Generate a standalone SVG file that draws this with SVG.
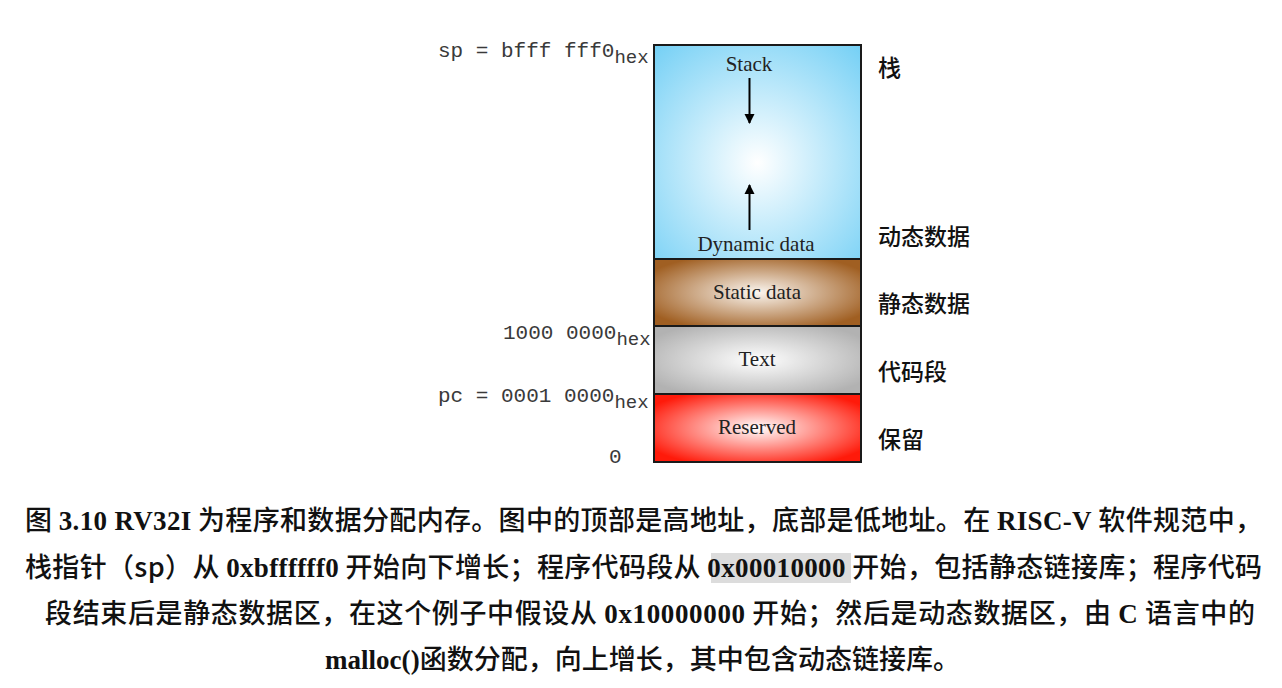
<svg xmlns="http://www.w3.org/2000/svg" width="1282" height="688" viewBox="0 0 1282 688">
<style>
.addr{font-family:"Liberation Mono","DejaVu Sans Mono",monospace;font-size:21px;fill:#3a3a3a}
.sub{font-size:19px}
.seg{font-family:"Liberation Serif","DejaVu Serif",serif;font-size:21px;fill:#222;text-anchor:middle}
.cn{font-family:"Noto Sans CJK SC",sans-serif;font-size:23px;fill:#111;font-weight:500}
.cap{font-family:"Noto Sans CJK SC",sans-serif;font-size:27px;fill:#111;text-anchor:middle;font-weight:500}
.b{font-family:"Liberation Serif",serif;font-weight:bold}
.box{stroke:#1a1a1a;stroke-width:2}
.arr{stroke:#000;stroke-width:2;fill:none}
</style>
<defs>
<radialGradient id="gStack" cx="0.5" cy="0.55" r="0.75">
<stop offset="0" stop-color="#ffffff"/>
<stop offset="1" stop-color="#72cff5"/>
</radialGradient>
<radialGradient id="gStatic" cx="0.5" cy="0.5" r="0.6">
<stop offset="0" stop-color="#fbf6f0"/>
<stop offset="1" stop-color="#a05f22"/>
</radialGradient>
<radialGradient id="gText" cx="0.5" cy="0.5" r="0.6">
<stop offset="0" stop-color="#ffffff"/>
<stop offset="1" stop-color="#b2b2b2"/>
</radialGradient>
<radialGradient id="gRes" cx="0.5" cy="0.5" r="0.6">
<stop offset="0" stop-color="#ffffff"/>
<stop offset="1" stop-color="#ff1a0a"/>
</radialGradient>
<marker id="ah" viewBox="0 0 10 10" refX="9" refY="5" markerWidth="5" markerHeight="6.5" orient="auto" markerUnits="strokeWidth">
<path d="M0,0 L10,5 L0,10 z" fill="#000"/>
</marker>
</defs>
<rect width="1282" height="688" fill="#fff"/>

<g id="node-stack">
<rect class="box" x="654" y="45" width="207" height="214" fill="url(#gStack)"/>
<text class="seg" x="749" y="71">Stack</text>
<text class="seg" x="756" y="251">Dynamic data</text>
</g>
<g id="node-static">
<rect class="box" x="654" y="259" width="207" height="67" fill="url(#gStatic)"/>
<text class="seg" x="757" y="299">Static data</text>
</g>
<g id="node-text">
<rect class="box" x="654" y="326" width="207" height="68" fill="url(#gText)"/>
<text class="seg" x="757" y="366">Text</text>
</g>
<g id="node-reserved">
<rect class="box" x="654" y="394" width="207" height="68" fill="url(#gRes)"/>
<text class="seg" x="757" y="434">Reserved</text>
</g>

<g id="connectors">
<line class="arr" x1="749.5" y1="78" x2="749.5" y2="123" marker-end="url(#ah)"/>
<line class="arr" x1="749.5" y1="230" x2="749.5" y2="185" marker-end="url(#ah)"/>
</g>

<g id="addr-labels">
<text class="addr" x="438" y="57">sp = bfff fff0<tspan class="sub" dy="6">hex</tspan></text>
<text class="addr" x="503" y="339">1000 0000<tspan class="sub" dy="6">hex</tspan></text>
<text class="addr" x="438" y="402">pc = 0001 0000<tspan class="sub" dy="6">hex</tspan></text>
<text class="addr" x="609" y="463">0</text>
</g>

<g id="cn-labels">
<text class="cn" x="878" y="76">栈</text>
<text class="cn" x="878" y="245">动态数据</text>
<text class="cn" x="878" y="312">静态数据</text>
<text class="cn" x="878" y="380">代码段</text>
<text class="cn" x="878" y="448">保留</text>
</g>

<g id="caption">
<rect x="711" y="553" width="140" height="30" fill="#dcdcdc"/>
<text class="cap" x="643.5" y="530" textLength="1237" lengthAdjust="spacing">图 <tspan class="b">3.10 RV32I</tspan> 为程序和数据分配内存。图中的顶部是高地址，底部是低地址。在 <tspan class="b">RISC-V</tspan> 软件规范中，</text>
<text class="cap" x="643.5" y="577" textLength="1237" lengthAdjust="spacing">栈指针（sp）从 <tspan class="b">0xbffffff0</tspan> 开始向下增长；程序代码段从 <tspan class="b">0x00010000</tspan> 开始，包括静态链接库；程序代码</text>
<text class="cap" x="650" y="623" textLength="1210" lengthAdjust="spacing">段结束后是静态数据区，在这个例子中假设从 <tspan class="b">0x10000000</tspan> 开始；然后是动态数据区，由 <tspan class="b">C</tspan> 语言中的</text>
<text class="cap" x="642.5" y="669" textLength="635" lengthAdjust="spacing"><tspan class="b">malloc()</tspan>函数分配，向上增长，其中包含动态链接库。</text>
</g>
</svg>
